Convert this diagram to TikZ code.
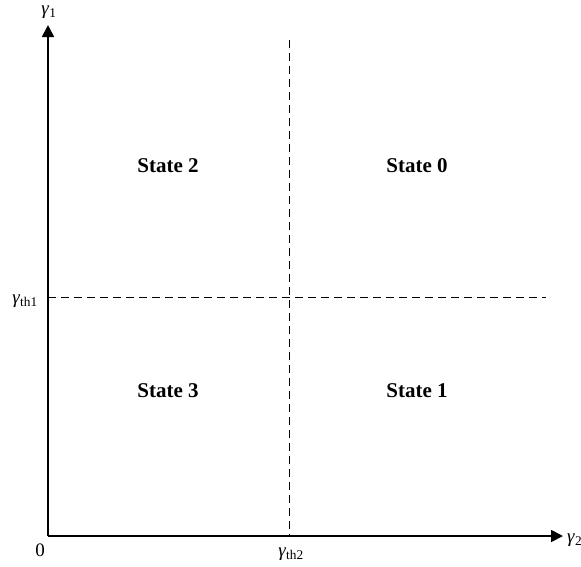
\documentclass[tikz,border=0pt]{standalone}
\usepackage{fontspec}
\setmainfont{Liberation Serif}
\usetikzlibrary{arrows.meta}

\tikzset{
  axis/.style={line width=1.8pt, -{Triangle[length=12pt,width=12pt]}},
  bound/.style={line width=0.9pt, dash pattern=on 8pt off 5pt},
  region/.style={font=\fontsize{21}{25}\selectfont\bfseries},
  tick/.style={font=\fontsize{19}{22}\selectfont, inner sep=0pt}
}
\newcommand{\gam}[1]{\textit{γ}\textsubscript{#1}}

\begin{document}
\begin{tikzpicture}[x=1pt,y=-1pt]
  \useasboundingbox (0,0) rectangle (581,566);

  \coordinate (O) at (48,536);
  \coordinate (ytop) at (48,25);
  \coordinate (xend) at (563,536);

  \coordinate (hl) at (48,297);
  \coordinate (hr) at (546,297);
  \coordinate (vt) at (289,40);
  \coordinate (vb) at (289,536);

  % thresholds
  \draw[bound] (hl) -- (hr);
  \draw[bound] (vt) -- (vb);

  % axes
  \draw[axis] (O) -- (ytop);
  \draw[axis] (O) -- (xend);

  \node[tick] (g1) at (49,12) {\gam{1}};
  \node[tick, anchor=west] (g2) at (567,540) {\gam{2}};
  \node[tick] (gth1) at (25,301) {\gam{th1}};
  \node[tick] (gth2) at (291,554) {\gam{th2}};
  \node[tick] (zero) at (40,550) {0};

  \node[region] (s2) at (168,166) {State 2};
  \node[region] (s0) at (417,166) {State 0};
  \node[region] (s3) at (168,391) {State 3};
  \node[region] (s1) at (417,391) {State 1};
\end{tikzpicture}
\end{document}
